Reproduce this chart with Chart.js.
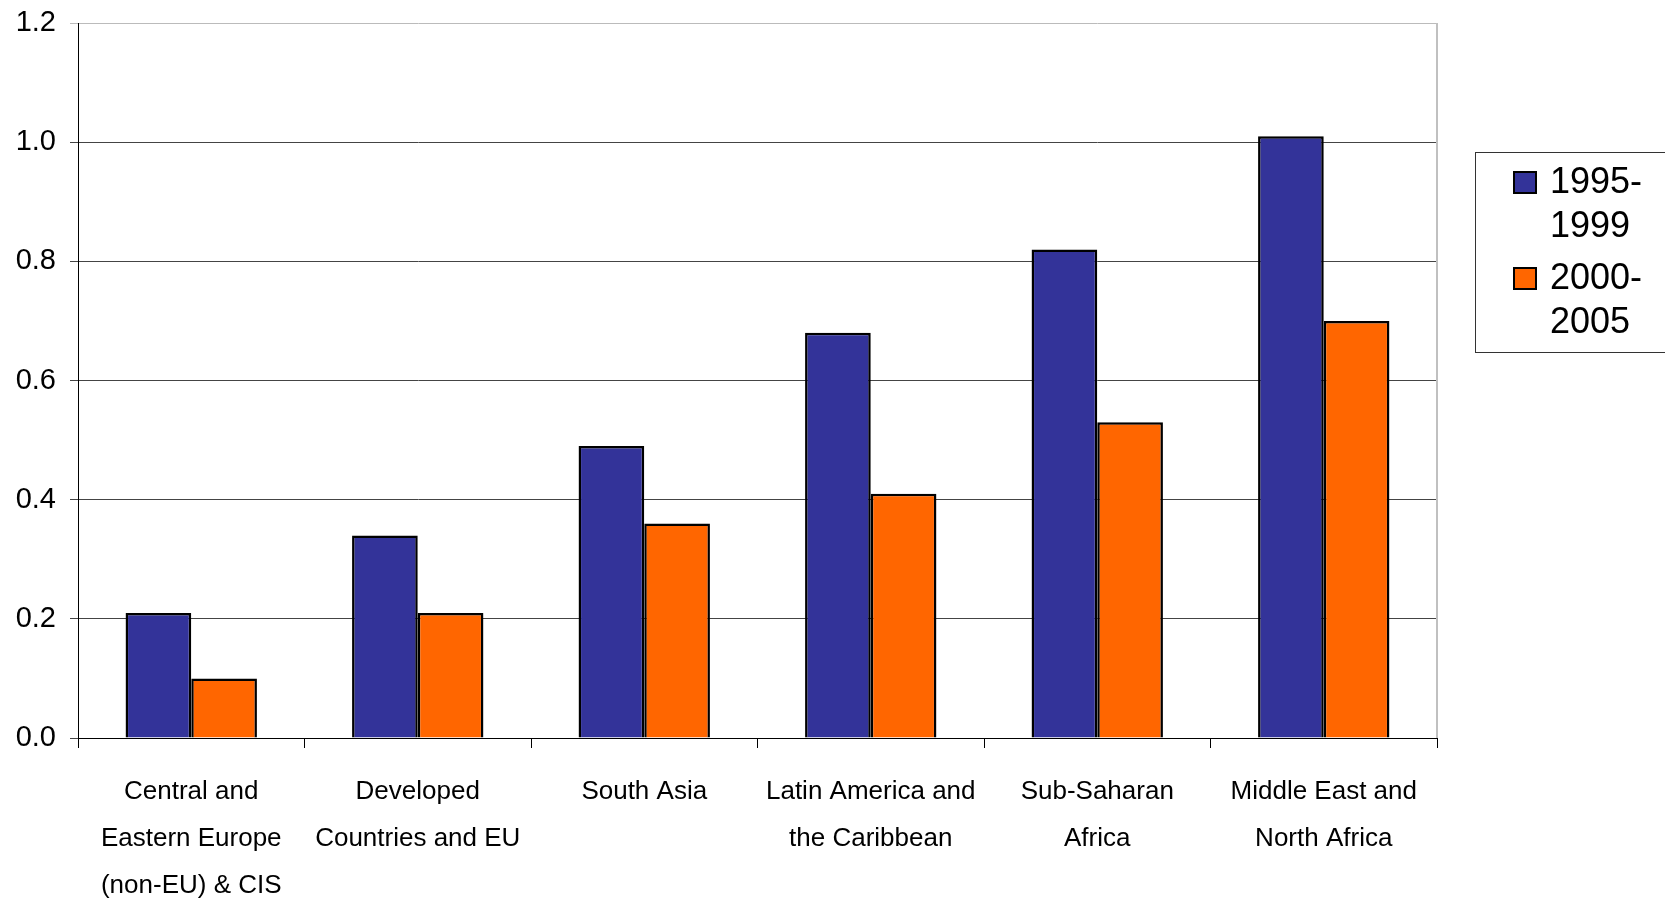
<!DOCTYPE html>
<html>
<head>
<meta charset="utf-8">
<script src="https://cdn.jsdelivr.net/npm/chart.js@4.4.1/dist/chart.umd.min.js"></script>
<style>
  html, body { margin: 0; padding: 0; background: #fff; }
  #wrap { width: 1665px; height: 901px; position: relative; }
</style>
</head>
<body>
<div id="wrap"><canvas id="barChart"></canvas></div>
<script>
// Regions (x axis), wrapped the way the original shows them
const regions = [
    ['Central and', 'Eastern Europe', '(non-EU) & CIS'],
    ['Developed', 'Countries and EU'],
    ['South Asia'],
    ['Latin America and', 'the Caribbean'],
    ['Sub-Saharan', 'Africa'],
    ['Middle East and', 'North Africa']
];

const seriesNames = ['1995-1999', '2000-2005'];
const values9599 = [0.21, 0.34, 0.49, 0.68, 0.82, 1.01];
const values0005 = [0.10, 0.21, 0.36, 0.41, 0.53, 0.70];
const yTicks = [0.0, 0.2, 0.4, 0.6, 0.8, 1.0, 1.2];

const BLUE = '#333399';
const ORANGE = '#FF6600';

// legend drawn by hand so the labels can wrap after the dash
const boxLegend = {
    id: 'boxLegend',
    afterDraw(chart) {
        const ctx = chart.ctx;
        const x0 = 1475, y0 = 152, w = 200, h = 200;
        ctx.save();
        ctx.strokeStyle = '#333';
        ctx.lineWidth = 1;
        ctx.strokeRect(x0 + 0.5, y0 + 0.5, w, h);
        ctx.font = '36px "Liberation Sans", Arial, sans-serif';
        ctx.textBaseline = 'middle';
        ctx.fillStyle = '#000';
        chart.data.datasets.forEach((ds, i) => {
            const top = 182 + i * 96;
            const dash = ds.label.indexOf('-');
            const lines = [ds.label.slice(0, dash + 1), ds.label.slice(dash + 1)];
            ctx.fillStyle = ds.backgroundColor;
            ctx.fillRect(1514, top - 10, 22, 21);
            ctx.strokeStyle = '#000';
            ctx.lineWidth = 2;
            ctx.strokeRect(1514, top - 10, 22, 21);
            ctx.fillStyle = '#000';
            ctx.fillText(lines[0], 1550, top + 1);
            ctx.fillText(lines[1], 1550, top + 45);
        });
        ctx.restore();
    }
};

const ctx = document.getElementById('barChart').getContext('2d');
new Chart(ctx, {
    type: 'bar',
    data: {
        labels: regions,
        datasets: [
            {
                label: seriesNames[0],
                data: values9599,
                backgroundColor: BLUE,
                borderColor: '#000',
                borderWidth: 2.5,
                borderSkipped: 'bottom'
            },
            {
                label: seriesNames[1],
                data: values0005,
                backgroundColor: ORANGE,
                borderColor: '#000',
                borderWidth: 2.5,
                borderSkipped: 'bottom'
            }
        ]
    },
    options: {
        responsive: true,
        maintainAspectRatio: false,
        animation: false,
        datasets: {
            bar: { categoryPercentage: 0.58, barPercentage: 1.0 }
        },
        layout: { padding: { top: 23, right: 228, left: 0, bottom: 0 } },
        plugins: {
            legend: { display: false },
            tooltip: { enabled: false }
        },
        scales: {
            x: {
                afterFit(scale) { scale.height = 163; },
                grid: {
                    offset: true,
                    drawOnChartArea: false,
                    color: '#000',
                    tickLength: 10
                },
                border: { color: '#000', width: 1 },
                ticks: {
                    color: '#000',
                    padding: 20,
                    maxRotation: 0,
                    autoSkip: false,
                    font: { family: '"Liberation Sans", Arial, sans-serif', size: 26, lineHeight: 1.81 }
                }
            },
            y: {
                min: 0,
                max: 1.2,
                afterFit(scale) {
                    scale.width = 78;
                    scale.paddingTop = 0;
                    scale.paddingBottom = 0;
                },
                afterBuildTicks(scale) {
                    scale.ticks = yTicks.map(v => ({ value: v }));
                },
                grid: {
                    color: ctx => ctx.tick && ctx.tick.value === 1.2 ? '#bbb' : '#444',
                    lineWidth: 1,
                    tickLength: 8
                },
                border: { color: '#000', width: 1 },
                ticks: {
                    color: '#000',
                    padding: 14,
                    font: { family: '"Liberation Sans", Arial, sans-serif', size: 29 },
                    callback: v => Number(v).toFixed(1)
                }
            }
        }
    },
    plugins: [boxLegend, {
        id: 'rightEdge',
        afterDraw(chart) {
            const a = chart.chartArea, c = chart.ctx;
            c.save();
            c.strokeStyle = '#c0c0c0';
            c.lineWidth = 2;
            c.beginPath();
            c.moveTo(a.right, a.top);
            c.lineTo(a.right, a.bottom);
            c.stroke();
            c.restore();
        }
    }]
});
</script>
</body>
</html>
